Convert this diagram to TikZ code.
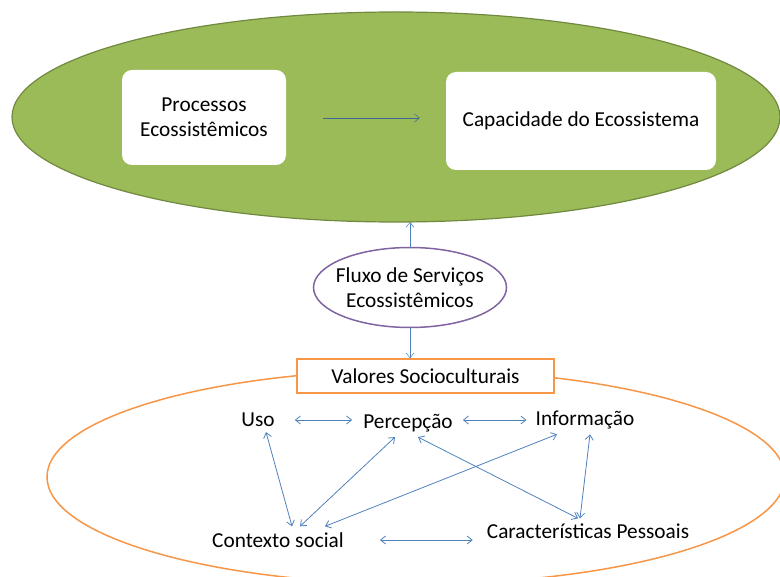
\documentclass[tikz,border=0pt]{standalone}
\usepackage{fontspec}
\setmainfont{Carlito}
\usetikzlibrary{arrows.meta,shapes.geometric}
\definecolor{leaf}{HTML}{9BBB59}
\definecolor{leafline}{HTML}{71893F}
\definecolor{violet}{HTML}{8064A2}
\definecolor{peach}{HTML}{F79646}
\definecolor{link}{HTML}{4F81BD}
\tikzset{
  whitebox/.style={draw=none,fill=white,rounded corners=10pt,align=center},
  word/.style={inner sep=2pt},
  flow/.style={draw=link,line width=0.8pt,-{Straight Barb[length=5pt,width=8pt]}},
  both/.style={draw=link,line width=0.8pt,{Straight Barb[length=5pt,width=8pt]}-{Straight Barb[length=5pt,width=8pt]}}
}
\begin{document}
\begin{tikzpicture}[x=1pt,y=-1pt,font=\fontsize{21.3}{25}\selectfont]
  \useasboundingbox (0,0) rectangle (780,577);
  % upper ellipse
  \draw[fill=leaf,draw=leafline,line width=1.2pt] (396,117) ellipse [x radius=384,y radius=105];
  \node[whitebox,minimum width=164pt,minimum height=95pt] (proc) at (204,117.5) {Processos\\Ecossistêmicos};
  \node[whitebox,minimum width=270pt,minimum height=98pt] (cap) at (581,121) {Capacidade do Ecossistema};
  \draw[flow,draw=link!80!black,line width=0.5pt,shorten <=37pt,shorten >=26pt] (proc.east |- 0,118) -- (cap.west |- 0,118);
  % lower ellipse
  \draw[draw=peach,line width=1.5pt] (416,477) ellipse [x radius=369,y radius=107];
  \node[draw=peach,fill=white,line width=1.5pt,minimum width=257pt,minimum height=34pt] (val) at (425.5,376) {Valores Socioculturais};
  % flow of services
  \node[ellipse,draw=violet,line width=1.5pt,fill=white,inner xsep=-8pt,inner ysep=3pt,minimum width=193pt,minimum height=80pt,align=center] (fluxo) at (410,287.5) {Fluxo de Serviços\\Ecossistêmicos};
  \coordinate (top) at (410,222);
  \draw[flow,line width=0.5pt] (fluxo.north) -- (top);
  \draw[flow,line width=0.5pt] (fluxo.south) -- (fluxo.south |- val.north);
  % values
  \node[word] (uso) at (258,420) {Uso};
  \node[word] (perc) at (408,423) {Percepção};
  \node[word] (info) at (585,420) {Informação};
  \node[word] (ctx) at (278,540) {Contexto social};
  \node[word] (pes) at (588,531) {Características Pessoais};
  \draw[both,shorten <=18pt,shorten >=9pt] (uso.east) -- (perc.west |- uso.east);
  \draw[both,shorten <=8pt,shorten >=7pt] (perc.east |- info.west) -- (info.west);
  \draw[both] ([xshift=8pt,yshift=-3pt]uso.south) -- ([xshift=14pt,yshift=4pt]ctx.north);
  \draw[both] ([xshift=-13pt,yshift=-3pt]perc.south) -- ([xshift=22pt,yshift=4pt]ctx.north);
  \draw[both] ([xshift=-28pt,yshift=-3pt]info.south) -- ([xshift=47pt,yshift=4pt]ctx.north);
  \draw[both] ([xshift=10pt,yshift=-3pt]perc.south) -- ([xshift=-10pt,yshift=3pt]pes.north);
  \draw[both] ([xshift=5pt,yshift=-3pt]info.south) -- ([xshift=-8pt,yshift=3pt]pes.north);
  \draw[both,shorten <=34pt,shorten >=12pt] (ctx.east |- 0,540) -- (pes.west |- 0,540);
\end{tikzpicture}
\end{document}
